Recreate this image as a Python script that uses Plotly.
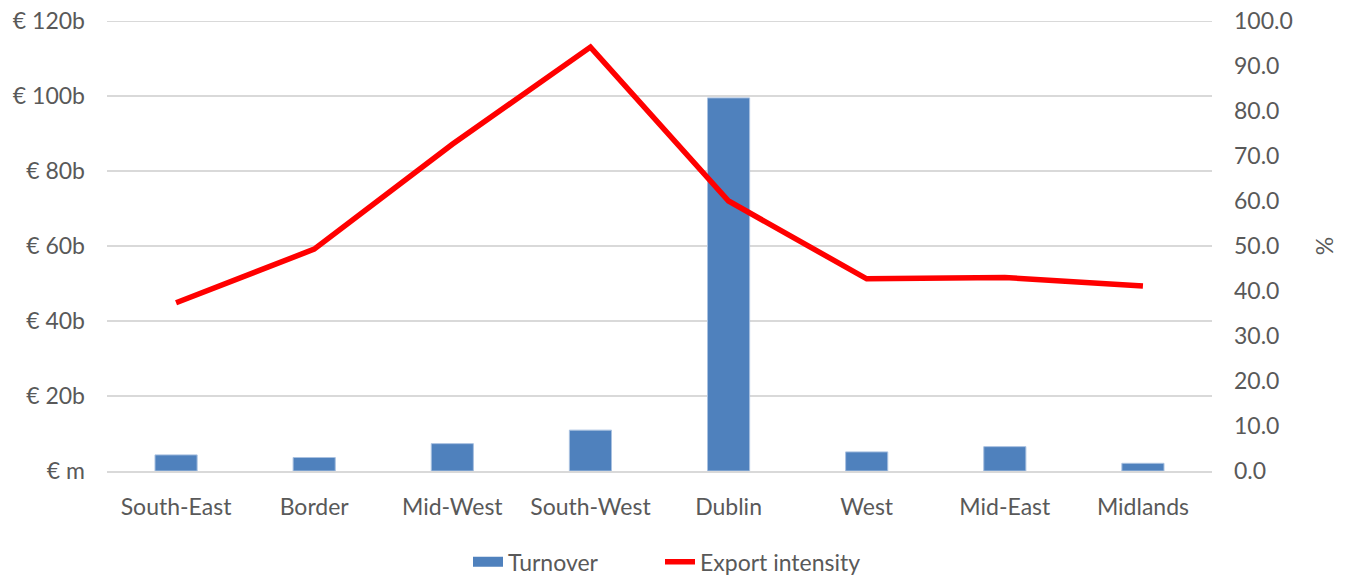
import plotly.graph_objects as go

regions = ["South-East", "Border", "Mid-West", "South-West", "Dublin", "West", "Mid-East", "Midlands"]
turnover_b = [4.3, 3.6, 7.3, 10.9, 99.5, 5.1, 6.5, 2.05]
export_intensity = [37.4, 49.3, 72.6, 94.2, 60.0, 42.7, 43.0, 41.1]

left_tickvals = [0, 20, 40, 60, 80, 100, 120]
left_ticktext = ["€ m", "€ 20b", "€ 40b", "€ 60b", "€ 80b", "€ 100b", "€ 120b"]
right_tickvals = [0, 10, 20, 30, 40, 50, 60, 70, 80, 90, 100]

FONT = "Lato"
GREY = "#595959"
GRID = "#D9D9D9"
FS = 23
BLUE = "#4F81BD"

PLOT_L, PLOT_W = 107, 1105

fig = go.Figure()
fig.add_trace(go.Bar(
    x=regions, y=turnover_b, name="Turnover", showlegend=False,
    marker=dict(color=BLUE, line=dict(color="#A9C1E0", width=1)),
))
# legend proxy for the bar series (wide rectangle swatch)
fig.add_trace(go.Scatter(
    x=[None], y=[None], name="Turnover", mode="lines", legend="legend",
    line=dict(color=BLUE, width=14),
))
fig.add_trace(go.Scatter(
    x=regions, y=export_intensity, name="Export intensity", yaxis="y2", legend="legend2",
    mode="lines", line=dict(color="#FF0000", width=5.5),
))

# top gridline (Plotly drops gridlines lying on the plot edge)
fig.add_shape(type="line", xref="paper", yref="y", x0=0, x1=1, y0=120, y1=120,
              line=dict(color=GRID, width=2), layer="below")

leg_common = dict(orientation="h", xanchor="left", y=-0.154, yanchor="top",
                  font=dict(size=FS, color=GREY), bgcolor="rgba(0,0,0,0)")

fig.update_layout(
    width=1349, height=578,
    margin=dict(l=107, r=137, t=21, b=107, autoexpand=False),
    plot_bgcolor="white", paper_bgcolor="white",
    font=dict(family=FONT, size=FS, color=GREY),
    bargap=0.695,
    showlegend=True,
    legend=dict(x=(468 - PLOT_L) / PLOT_W, **leg_common),
    legend2=dict(x=(660 - PLOT_L) / PLOT_W, **leg_common),
    xaxis=dict(showgrid=False, showline=True, linecolor=GRID, linewidth=2,
               ticks="", ticklabelstandoff=14, automargin=False,
               tickfont=dict(size=FS, color=GREY)),
    yaxis=dict(range=[0, 120], tickvals=left_tickvals, ticktext=left_ticktext,
               showgrid=True, gridcolor=GRID, gridwidth=2, zeroline=False,
               ticks="", ticklabelstandoff=21, automargin=False,
               ticklabeloverflow="allow",
               tickfont=dict(size=FS, color=GREY)),
    yaxis2=dict(range=[0, 100], tickvals=right_tickvals,
                tickformat=".1f", overlaying="y", side="right",
                showgrid=False, zeroline=False, ticks="", ticklabelstandoff=21,
                automargin=False, ticklabeloverflow="allow",
                tickfont=dict(size=FS, color=GREY),
                title=dict(text="%", font=dict(size=FS, color=GREY), standoff=25)),
)

fig.write_html("out.html", config={"displayModeBar": False},
               post_script="document.body.style.margin='0';document.body.style.overflow='hidden';")
